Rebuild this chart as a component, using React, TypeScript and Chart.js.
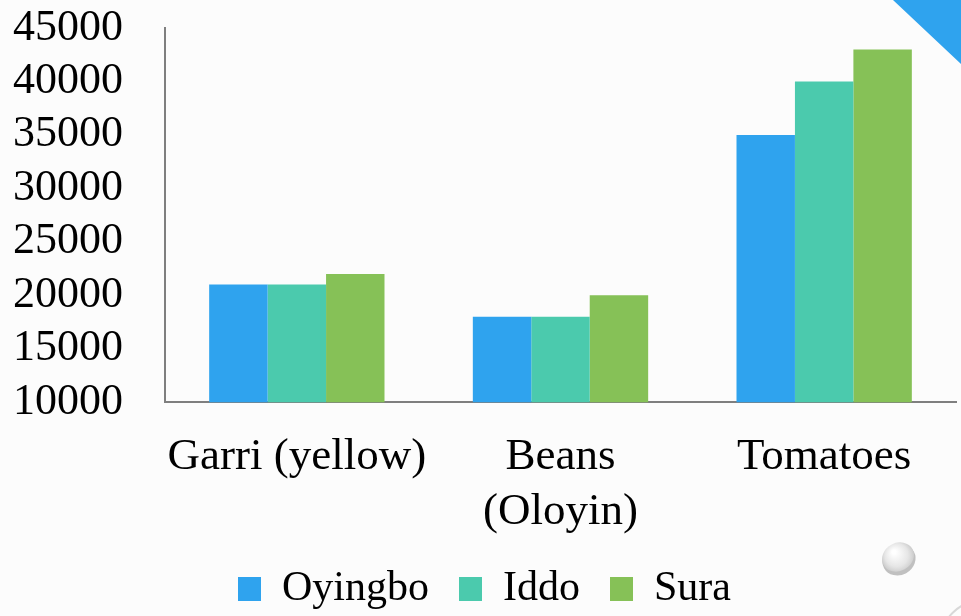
import React, { useEffect, useRef } from "react";
import { Chart, registerables } from "chart.js";

Chart.register(...registerables);

const categories: (string | string[])[] = ["Garri (yellow)", ["Beans", "(Oloyin)"], "Tomatoes"];
const seriesNames = ["Oyingbo", "Iddo", "Sura"];
const oyingbo = [21000, 18000, 35000];
const iddo = [21000, 18000, 40000];
const sura = [22000, 20000, 43000];
const colors = ["#2FA3EE", "#4BCAAD", "#86C157"];
const yMin = 10000;
const yMax = 45000;
const yStep = 5000;

const FONT = "'Liberation Serif', 'DejaVu Serif', serif";

const decorations = {
  id: "decorations",
  beforeDraw(chart: any) {
    const { ctx, width, height } = chart;
    ctx.save();
    ctx.fillStyle = "#fcfcfc";
    ctx.fillRect(0, 0, width, height);
    ctx.fillStyle = "#2FA3EE";
    ctx.beginPath();
    ctx.moveTo(width - 68, 0);
    ctx.lineTo(width, 0);
    ctx.lineTo(width, 64);
    ctx.closePath();
    ctx.fill();
    const cx = width - 63, cy = 557;
    ctx.fillStyle = "rgba(120,120,120,0.45)";
    ctx.beginPath();
    ctx.ellipse(cx + 1, cy + 3, 17, 15, -0.5, 0, Math.PI * 2);
    ctx.fill();
    const g = ctx.createRadialGradient(cx - 4, cy - 5, 2, cx, cy, 18);
    g.addColorStop(0, "#ffffff");
    g.addColorStop(0.6, "#e6e6e6");
    g.addColorStop(1, "#c4c4c4");
    ctx.fillStyle = g;
    ctx.beginPath();
    ctx.ellipse(cx, cy, 16.5, 14, -0.5, 0, Math.PI * 2);
    ctx.fill();
    ctx.strokeStyle = "#d8d8d8";
    ctx.lineWidth = 2;
    ctx.beginPath();
    ctx.arc(width + 20, height + 25, 40, 0, Math.PI * 2);
    ctx.stroke();
    ctx.restore();
  },
};

export default function App() {
  const ref = useRef<HTMLCanvasElement>(null);
  useEffect(() => {
    document.body.style.margin = "0";
    const datasets = [oyingbo, iddo, sura].map((d, i) => ({
      label: seriesNames[i],
      data: d,
      backgroundColor: colors[i],
      borderWidth: 0,
      categoryPercentage: 0.665,
      barPercentage: 1,
    }));
    const chart = new Chart(ref.current!, {
      type: "bar",
      data: { labels: categories, datasets },
      plugins: [decorations],
      options: {
        responsive: false,
        animation: false,
        maintainAspectRatio: false,
        layout: { padding: { left: 13, right: 5, top: 28, bottom: -4 } },
        plugins: {
          tooltip: { enabled: false },
          legend: {
            position: "bottom",
            labels: {
              boxWidth: 23,
              boxHeight: 24,
              padding: 30,
              color: "#000",
              font: { family: FONT, size: 42 },
            },
          },
        },
        scales: {
          x: {
            grid: { display: false, drawTicks: false },
            border: { display: true, color: "#7f7f7f", width: 2 },
            afterFit: (scale: any) => {
              scale.height = scale.height - 30;
            },
            ticks: {
              color: "#000",
              padding: 28,
              maxRotation: 0,
              autoSkip: false,
              font: { family: FONT, size: 45, lineHeight: 1.22 },
            },
          },
          y: {
            min: yMin,
            max: yMax,
            grid: { display: false, drawTicks: false },
            border: { display: true, color: "#7f7f7f", width: 2 },
            afterFit: (scale: any) => {
              scale.width = 152;
            },
            ticks: {
              stepSize: yStep,
              autoSkip: false,
              crossAlign: "far",
              color: "#000",
              padding: 0,
              font: { family: FONT, size: 44 },
              callback: (v: any) => String(v),
            },
          },
        },
      },
    });
    return () => chart.destroy();
  }, []);
  return (
    <div style={{ position: "absolute", left: 0, top: 0, width: 961, height: 616 }}>
      <canvas ref={ref} width={961} height={616} />
    </div>
  );
}
